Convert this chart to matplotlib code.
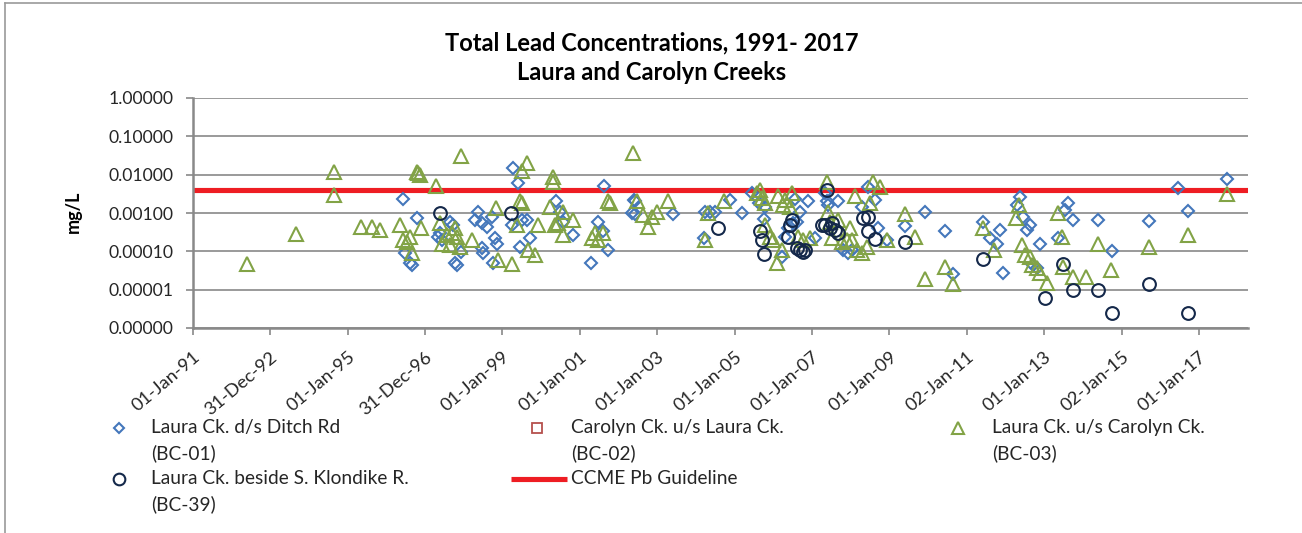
import matplotlib
matplotlib.use('Agg')
import matplotlib.pyplot as plt
from matplotlib.lines import Line2D
import matplotlib.ticker as mticker

plt.rcParams['font.family'] = ['Lato', 'DejaVu Sans']

# ---------------- data (decimal year, mg/L) ----------------
bc01_year = [1996.44, 1996.79, 1996.49, 1996.62, 1996.66, 1997.35, 1997.43, 1997.39, 1997.65, 1997.73,
             1997.78, 1997.82, 1997.93, 1998.38, 1998.29, 1998.47, 1998.60, 1998.73, 1998.81, 1998.86,
             1998.47, 1998.51, 1998.77, 1999.28, 1999.40, 1999.24, 1999.50, 1999.63, 1999.72, 1999.46,
             2000.39, 2000.49, 2000.58, 2000.83, 2001.64, 2001.48, 2001.61, 2001.74, 2001.29, 2002.39,
             2002.43, 2002.34, 2002.43, 2003.42, 2004.24, 2004.37, 2004.21, 2004.50, 2004.88, 2005.19,
             2005.44, 2005.62, 2005.79, 2005.77, 2006.56, 2006.91, 2006.69, 2006.61, 2006.52, 2006.39,
             2006.31, 2007.34, 2007.38, 2007.42, 2007.68, 2007.08, 2007.81, 2007.94, 2008.03, 2008.46,
             2008.63, 2008.29, 2008.72, 2008.93, 2006.22, 2009.41, 2009.92, 2010.44, 2010.65, 2011.41,
             2011.60, 2011.86, 2011.78, 2011.95, 2012.38, 2012.29, 2012.46, 2012.64, 2012.55, 2012.89,
             2012.72, 2012.81, 2013.37, 2013.61, 2013.54, 2013.75, 2014.39, 2014.75, 2015.72, 2016.47,
             2016.73, 2017.72]
bc01_val = [0.0023, 0.00073, 0.000089, 0.000049, 0.000044, 0.00024, 0.0002, 0.0003, 0.00059, 0.00049,
            0.000049, 0.000044, 0.000098, 0.00108, 0.00066, 0.00054, 0.00042, 0.0008, 0.00022, 0.00016,
            0.00012, 0.000089, 0.000049, 0.0147, 0.0062, 0.00049, 0.00066, 0.00066, 0.00022, 0.000132,
            0.0021, 0.00108, 0.00059, 0.00027, 0.0052, 0.00059, 0.00033, 0.000108, 0.000049, 0.0022,
            0.002, 0.00102, 0.00094, 0.00094, 0.00108, 0.00108, 0.00022, 0.00108, 0.0022, 0.00102,
            0.0033, 0.0018, 0.00146, 0.0007, 0.0023, 0.0021, 0.00108, 0.00059, 0.00054, 0.0004,
            0.00024, 0.0033, 0.002, 0.0016, 0.002, 0.00022, 0.000108, 0.000089, 0.000108, 0.0049,
            0.0022, 0.00146, 0.0004, 0.0002, 0.000072, 0.00046, 0.00108, 0.00033, 0.000026, 0.00059,
            0.00022, 0.00036, 0.00016, 0.000028, 0.0026, 0.0016, 0.0008, 0.00049, 0.00036, 0.00016,
            0.000044, 0.000036, 0.00022, 0.0018, 0.0012, 0.00066, 0.00066, 0.000104, 0.00063, 0.0044,
            0.00113, 0.0077]

bc02_year = []
bc02_val = []

bc03_year = [1992.40, 1993.67, 1994.66, 1994.66, 1995.35, 1995.63, 1995.84, 1996.36, 1996.44, 1996.53,
             1996.62, 1996.66, 1996.79, 1996.83, 1996.87, 1996.90, 1997.28, 1997.39, 1997.43, 1997.57,
             1997.65, 1997.70, 1997.78, 1997.83, 1997.91, 1997.93, 1998.22, 1998.83, 1998.90, 1999.24,
             1999.46, 1999.52, 1999.63, 1999.50, 1999.37, 1999.67, 1999.85, 1999.93, 2000.32, 2000.32,
             2000.23, 2000.36, 2000.45, 2000.58, 2000.58, 2000.83, 2001.74, 2001.78, 2001.31, 2001.40,
             2001.48, 2001.61, 2002.37, 2002.47, 2002.64, 2002.77, 2002.86, 2002.99, 2003.29, 2004.32,
             2004.24, 2004.74, 2005.57, 2005.66, 2005.70, 2005.79, 2006.13, 2006.31, 2006.26, 2006.48,
             2006.44, 2007.38, 2007.42, 2008.11, 2008.59, 2008.76, 2008.50, 2005.79, 2005.92, 2006.00,
             2006.22, 2006.09, 2006.65, 2006.78, 2006.95, 2007.47, 2007.68, 2007.98, 2007.90, 2007.77,
             2008.03, 2008.16, 2008.29, 2008.42, 2008.93, 2007.51, 2009.41, 2009.66, 2009.92, 2010.44,
             2010.65, 2011.41, 2011.71, 2012.27, 2012.36, 2012.42, 2012.51, 2012.64, 2012.68, 2012.81,
             2012.89, 2013.07, 2013.37, 2013.45, 2013.50, 2014.39, 2013.75, 2014.08, 2014.73, 2015.72,
             2016.73, 2017.72]
bc03_val = [0.000047, 0.00028, 0.0119, 0.0029, 0.00042, 0.00042, 0.00035, 0.00049, 0.0002, 0.00018,
            0.00024, 0.000089, 0.0119, 0.0109, 0.0098, 0.0004, 0.0051, 0.00054, 0.00016, 0.00027,
            0.000146, 0.0003, 0.00041, 0.00024, 0.00013, 0.031, 0.0002, 0.00133, 0.00006, 0.000047,
            0.002, 0.00185, 0.0205, 0.0127, 0.00049, 0.000108, 0.00008, 0.00049, 0.0089, 0.0066,
            0.00146, 0.00049, 0.00054, 0.00027, 0.00108, 0.00066, 0.002, 0.0018, 0.00022, 0.0003,
            0.0002, 0.0003, 0.037, 0.002, 0.00089, 0.00044, 0.0008, 0.00108, 0.002, 0.00098,
            0.0002, 0.002, 0.0033, 0.004, 0.0024, 0.0018, 0.0027, 0.0022, 0.0016, 0.0033,
            0.00146, 0.0066, 0.00108, 0.0027, 0.0066, 0.0049, 0.0018, 0.00049, 0.00024, 0.0002,
            0.000108, 0.000049, 0.00024, 0.0002, 0.00022, 0.00059, 0.00066, 0.0004, 0.0002, 0.00018,
            0.0002, 0.000108, 0.000089, 0.000132, 0.0002, 0.00022, 0.00094, 0.00024, 0.0000186, 0.00004,
            0.000014, 0.0004, 0.000108, 0.00073, 0.0016, 0.000146, 0.00008, 0.000072, 0.000044, 0.000036,
            0.000027, 0.0000147, 0.00098, 0.00024, 0.00004, 0.000155, 0.000022, 0.000021, 0.000033, 0.000132,
            0.00027, 0.0031]

bc39_year = [1997.39, 1999.22, 2004.58, 2005.66, 2005.70, 2005.77, 2006.48, 2006.44, 2006.37, 2006.61,
             2006.69, 2006.78, 2006.82, 2007.38, 2007.25, 2007.34, 2007.47, 2007.51, 2007.60, 2007.68,
             2008.33, 2008.46, 2008.46, 2008.63, 2009.41, 2011.41, 2013.02, 2013.50, 2013.75, 2014.39,
             2014.75, 2015.72, 2016.73]
bc39_val = [0.001, 0.001, 0.0004, 0.00033, 0.0002, 0.000085, 0.00066, 0.00049, 0.00024, 0.00012,
            0.000108, 0.000098, 0.000108, 0.004, 0.00049, 0.00049, 0.0004, 0.00054, 0.00036, 0.0003,
            0.00073, 0.0008, 0.00033, 0.00021, 0.00017, 0.000063, 0.0000059, 0.000047, 0.0000098, 0.0000098,
            0.0000025, 0.000014, 0.0000025]

ccme_guideline = 0.004

x_tick_years = [1991, 1993, 1995, 1997, 1999, 2001, 2003, 2005, 2007, 2009, 2011, 2013, 2015, 2017]
x_tick_labels = ['01-Jan-91', '31-Dec-92', '01-Jan-95', '31-Dec-96', '01-Jan-99', '01-Jan-01', '01-Jan-03',
                 '01-Jan-05', '01-Jan-07', '01-Jan-09', '02-Jan-11', '01-Jan-13', '02-Jan-15', '01-Jan-17']
y_ticks = [1e-6, 1e-5, 1e-4, 1e-3, 1e-2, 1e-1, 1.0]

title_lines = ['Total Lead Concentrations, 1991- 2017', 'Laura and Carolyn Creeks']
series_labels = [['Laura Ck. d/s Ditch Rd', '(BC-01)'],
                 ['Carolyn Ck. u/s Laura Ck.', '(BC-02)'],
                 ['Laura Ck. u/s Carolyn Ck.', '(BC-03)'],
                 ['Laura Ck. beside S. Klondike R.', '(BC-39)'],
                 ['CCME Pb Guideline']]

# ---------------- styles ----------------
C_BLUE = '#4477BB'
C_RED2 = '#B5504D'
C_GREEN = '#82A346'
C_NAVY = '#14284A'
C_LINE = '#EE1D23'
C_GRID = '#898989'
C_TEXT = '#262626'

st01 = dict(marker='D', ms=6.6, mfc='none', mec=C_BLUE, mew=1.5, ls='none')
st02 = dict(marker='s', ms=6.5, mfc='none', mec=C_RED2, mew=1.3, ls='none')
st03 = dict(marker='^', ms=9.4, mfc='none', mec=C_GREEN, mew=1.5, ls='none')
st39 = dict(marker='o', ms=9.2, mfc='none', mec=C_NAVY, mew=1.5, ls='none')
stln = dict(color=C_LINE, lw=3.7, solid_capstyle='butt')

leg01 = dict(st01, ms=5.4)
leg03 = dict(st03, ms=8.6)
leg39 = dict(st39, ms=8.4)

W, H = 1302, 533
fig = plt.figure(figsize=(W / 100, H / 100), dpi=100)
fig.patch.set_facecolor('white')

def fx(px):
    return px / W

def fy(py):
    return 1 - py / H

ax = fig.add_axes([fx(192.7), fy(328), fx(1247.7) - fx(192.7), fy(98) - fy(328)])

ax.set_yscale('log')
ax.set_ylim(1e-6, 1.0)
ax.set_xlim(1991, 2018.26)

for yv in y_ticks:
    ax.axhline(yv, color=C_GRID, lw=1.2, zorder=1)

ax.axhline(ccme_guideline, zorder=2, **stln)
ax.plot(bc01_year, bc01_val, zorder=3, **st01)
ax.plot(bc02_year, bc02_val, zorder=3, **st02)
ax.plot(bc03_year, bc03_val, zorder=3, **st03)
ax.plot(bc39_year, bc39_val, zorder=4, **st39)

ax.yaxis.set_major_locator(mticker.FixedLocator(y_ticks))
ax.yaxis.set_minor_locator(mticker.NullLocator())
ax.yaxis.set_major_formatter(mticker.FuncFormatter(lambda v, p: f'{v:.5f}'))
ax.set_xticks(x_tick_years)
ax.set_xticklabels(x_tick_labels, rotation=40, ha='right', va='top', rotation_mode='anchor')

ax.tick_params(axis='y', direction='out', length=5, width=1.2, color=C_GRID, pad=9,
               labelsize=12.7, labelcolor=C_TEXT)
ax.tick_params(axis='x', direction='out', length=5, width=1.2, color=C_GRID, pad=10,
               labelsize=13.2, labelcolor=C_TEXT)

for s in ['top', 'right']:
    ax.spines[s].set_visible(False)
ax.spines['left'].set_color(C_GRID)
ax.spines['left'].set_linewidth(1.8)
ax.spines['bottom'].set_color(C_GRID)
ax.spines['bottom'].set_linewidth(1.8)

# y-axis title
fig.text(fx(73), fy(212), 'mg/L', rotation=90, ha='center', va='center',
         fontsize=13, fontweight='bold', color='black')

# chart title
fig.text(fx(652), fy(43), title_lines[0], ha='center', va='center',
         fontsize=17, fontweight='bold', color='black')
fig.text(fx(652), fy(73), title_lines[1], ha='center', va='center',
         fontsize=17, fontweight='bold', color='black')

# legend (manual placement)
leg_fs = 13.8
def leg_text(x, y, lines):
    for i, t in enumerate(lines):
        fig.text(fx(x), fy(y + 25.5 * i), t, ha='left', va='center', fontsize=leg_fs, color=C_TEXT)

def leg_marker(x, y, st):
    fig.add_artist(Line2D([fx(x)], [fy(y)], transform=fig.transFigure, **st))

leg_marker(119, 428, leg01); leg_text(151, 428, series_labels[0])
leg_marker(537, 428, st02); leg_text(571, 428, series_labels[1])
leg_marker(958, 428, leg03); leg_text(992, 428, series_labels[2])
leg_marker(119, 479, leg39); leg_text(151, 479, series_labels[3])
fig.add_artist(Line2D([fx(511), fx(567)], [fy(479), fy(479)], transform=fig.transFigure, **stln))
leg_text(571, 479, series_labels[4])

# chart frame (partially visible)
fig.add_artist(Line2D([fx(5), fx(5)], [fy(3), fy(540)], transform=fig.transFigure, color='#9A9A9A', lw=1.2))
fig.add_artist(Line2D([fx(5), fx(1310)], [fy(3), fy(3)], transform=fig.transFigure, color='#9A9A9A', lw=1.2))

fig.savefig('out.png', dpi=100)
